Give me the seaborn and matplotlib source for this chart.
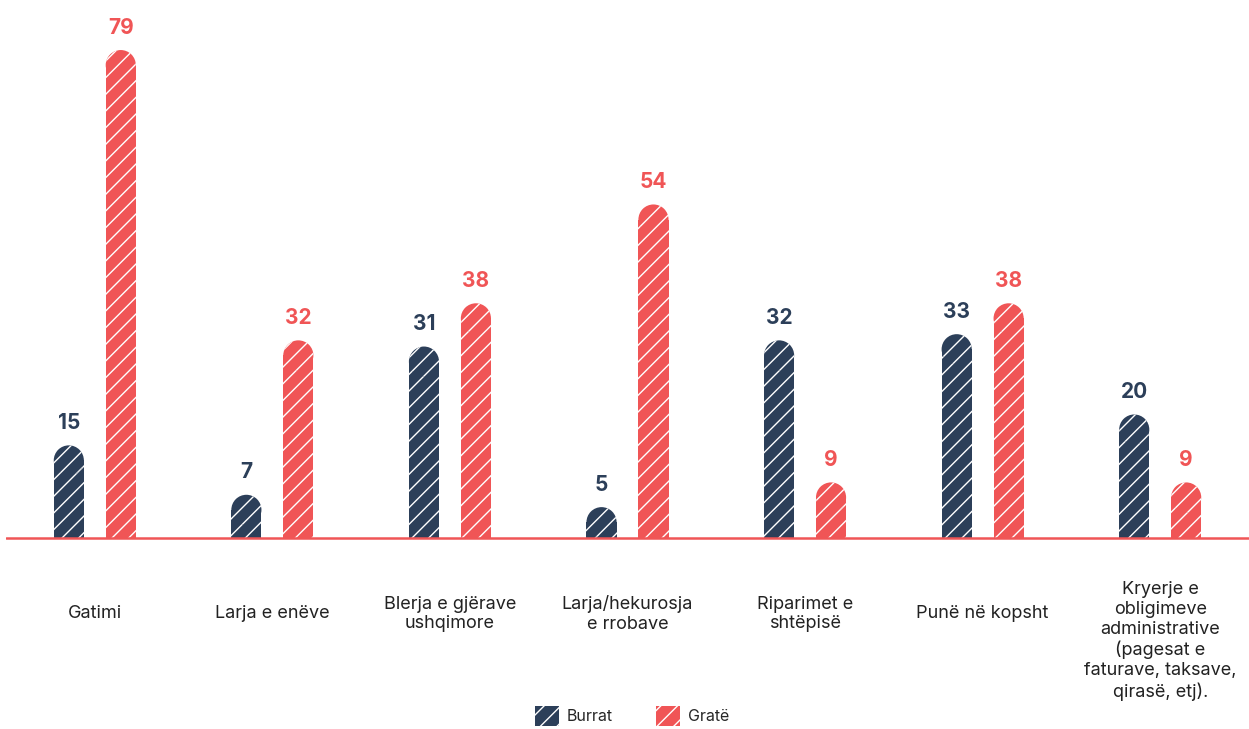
import pandas as pd
import seaborn as sns
import matplotlib.pyplot as plt
import matplotlib.transforms as mtransforms
from matplotlib.patches import Ellipse, Patch

# Data
categories = ['Gatimi', 'Larja e enëve', 'Blerja e gjërave\nushqimore',
              'Larja/hekurosja\ne rrobave', 'Riparimet e\nshtëpisë', 'Punë në kopsht',
              'Kryerje e\nobligimeve\nadministrative\n(pagesat e\nfaturave, taksave,\nqirasë, etj).']
burrat = [15, 7, 31, 5, 32, 33, 20]
grate = [79, 32, 38, 54, 9, 38, 9]
groups = ['Burrat', 'Gratë']

navy = '#2C3F59'
red = '#F05556'
colors = {'Burrat': navy, 'Gratë': red}

df = pd.DataFrame({
    'category': categories * 2,
    'value': burrat + grate,
    'group': ['Burrat'] * len(categories) + ['Gratë'] * len(categories),
})

sns.set_style('white')
plt.rcParams['font.family'] = ['Inter', 'DejaVu Sans']
plt.rcParams['hatch.color'] = 'white'
plt.rcParams['hatch.linewidth'] = 1.0

fig = plt.figure(figsize=(12.49, 7.29), dpi=100)
ax = fig.add_axes([6 / 1249, 185 / 729, 1 - 6 / 1249, 544 / 729])

sns.barplot(data=df, x='category', y='value', hue='group', order=categories,
            hue_order=groups, palette=colors, width=0.585, gap=0.42,
            legend=False, ax=ax, saturation=1)

ax.set_ylim(-0.97, 87.1)
ax.set_xlim(-0.5, len(categories) - 0.5)
fig.canvas.draw()

# pixels per data unit, to get round caps
p0 = ax.transData.transform((0, 0))
p1 = ax.transData.transform((1, 1))
px_x = p1[0] - p0[0]
px_y = p1[1] - p0[1]

for cont, g in zip(ax.containers, groups):
    for bar in cont:
        x, w, h = bar.get_x(), bar.get_width(), bar.get_height()
        ry = (w * px_x / 2) / px_y
        bar.set_height(h - ry)
        bar.set_hatch('//')
        bar.set_edgecolor('white')
        bar.set_linewidth(0)
        cap = Ellipse((x + w / 2, h - ry), w, 2 * ry, facecolor=colors[g],
                      edgecolor='white', linewidth=0, hatch='//')
        ax.add_patch(cap)
        ax.annotate(f'{int(round(h))}', (x + w / 2, h), xytext=(0, 9),
                    textcoords='offset points', ha='center', va='bottom',
                    fontsize=15, fontweight='bold', color=colors[g])

ax.axhline(0, color=red, linewidth=1.8, zorder=5)

ax.set_xticks([])
ax.set_xlabel('')
ax.set_ylabel('')
ax.set_yticks([])
for s in ax.spines.values():
    s.set_visible(False)

# category labels under the baseline
trans = mtransforms.blended_transform_factory(ax.transData, fig.transFigure)
for i, lab in enumerate(categories):
    ypix = 614 if i < len(categories) - 1 else 641
    ax.text(i, 1 - ypix / 729, lab, transform=trans, ha='center', va='center',
            fontsize=13, color='#222222', linespacing=1.22)

handles = [Patch(facecolor=colors[g], edgecolor='white', linewidth=0, hatch='//', label=g)
           for g in groups]
fig.legend(handles=handles, loc='center', bbox_to_anchor=(0.506, 1 - 716 / 729), ncol=2,
           frameon=False, fontsize=11.5, handlelength=1.5, handleheight=1.5,
           columnspacing=2.7, handletextpad=0.5)

plt.savefig('out.png', dpi=100)
